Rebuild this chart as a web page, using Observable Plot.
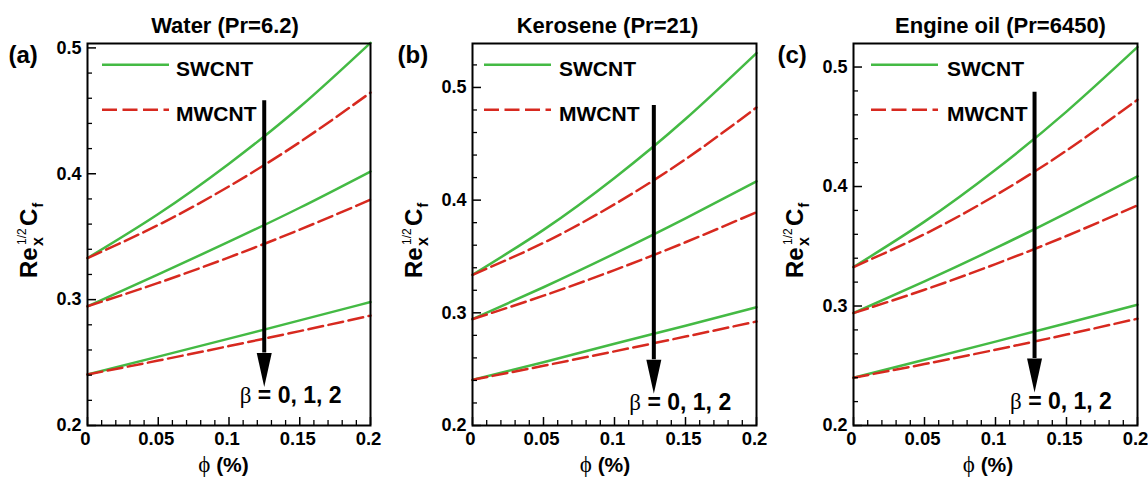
<!DOCTYPE html>
<html><head><meta charset="utf-8">
<script src="https://cdn.jsdelivr.net/npm/d3@7"></script>
<script src="https://cdn.jsdelivr.net/npm/@observablehq/plot@0.6"></script>
<style>
html,body{margin:0;padding:0;background:#fff;}
#wrap{position:relative;width:1148px;height:482px;overflow:hidden;background:#fff;}
#wrap > svg{position:absolute;top:0;}
</style></head><body><div id="wrap"></div>
<script>
// ---- data ----
const phi = [0, 0.05, 0.1, 0.15, 0.2];
const betas = [0, 1, 2];
const nanoNames = ["SWCNT", "MWCNT"];

// Water (Pr=6.2)
const waterSW0 = [0.333, 0.368, 0.408, 0.453, 0.504];
const waterSW1 = [0.2947, 0.320, 0.346, 0.373, 0.4018];
const waterSW2 = [0.2405, 0.2547, 0.269, 0.2835, 0.2981];
const waterMW0 = [0.333, 0.3593, 0.390, 0.4251, 0.4645];
const waterMW1 = [0.2947, 0.3133, 0.3336, 0.3556, 0.3794];
const waterMW2 = [0.2405, 0.2516, 0.2631, 0.275, 0.2873];

// Kerosene (Pr=21)
const keroSW0 = [0.3337, 0.3736, 0.4197, 0.472, 0.5305];
const keroSW1 = [0.2944, 0.3227, 0.3525, 0.3838, 0.4166];
const keroSW2 = [0.2405, 0.2562, 0.2725, 0.2885, 0.305];
const keroMW0 = [0.3337, 0.3621, 0.3963, 0.4363, 0.4822];
const keroMW1 = [0.2944, 0.3152, 0.3379, 0.3626, 0.3893];
const keroMW2 = [0.2405, 0.253, 0.2658, 0.2789, 0.2923];

// Engine oil (Pr=6450)
const oilSW0 = [0.3326, 0.3706, 0.414, 0.4627, 0.5167];
const oilSW1 = [0.2941, 0.3206, 0.3484, 0.3778, 0.4085];
const oilSW2 = [0.240, 0.255, 0.2702, 0.2856, 0.3011];
const oilMW0 = [0.3326, 0.3601, 0.3926, 0.4301, 0.4727];
const oilMW1 = [0.2941, 0.3136, 0.3351, 0.3586, 0.3842];
const oilMW2 = [0.240, 0.2514, 0.2634, 0.2761, 0.2894];

const titles = ["Water (Pr=6.2)", "Kerosene (Pr=21)", "Engine oil (Pr=6450)"];
const tags = ["(a)", "(b)", "(c)"];
const yMaxes = [0.5035, 0.539, 0.5197];
// arrow annotation: x position, top value, head-base value
const arrowX = [0.1249, 0.1277, 0.1275];
const arrowTop = [0.458, 0.484, 0.479];
const arrowBase = [0.2577, 0.2583, 0.256];
const betaLabel = ["β", " = 0, 1, 2"];

const xMajor = [0, 0.05, 0.1, 0.15, 0.2];
const xMinor = [0.01,0.02,0.03,0.04,0.06,0.07,0.08,0.09,0.11,0.12,0.13,0.14,0.16,0.17,0.18,0.19];
const yMajor = [0.2, 0.3, 0.4, 0.5];
const yMinor = [0.22,0.24,0.26,0.28,0.32,0.34,0.36,0.38,0.42,0.44,0.46,0.48,0.52];

const series = [
  [[waterSW0, waterSW1, waterSW2], [waterMW0, waterMW1, waterMW2]],
  [[keroSW0, keroSW1, keroSW2], [keroMW0, keroMW1, keroMW2]],
  [[oilSW0, oilSW1, oilSW2], [oilMW0, oilMW1, oilMW2]]
];

// ---- layout (not data) ----
const layout = [
  {left: 0,   ml: 87, mr: 14, titleDx: -4, tagX: 8,  legX: 15, legTx: 89, xlabDx: -5},
  {left: 382, ml: 90, mr: 10, titleDx: -7, tagX: 15, legX: 12, legTx: 87, xlabDx: -9},
  {left: 764, ml: 89, mr: 11, titleDx: 5,  tagX: 13, legX: 18, legTx: 94, xlabDx: -7}
];
const W = 384, H = 482, MT = 43, MB = 57;
const GREEN = "#44ba44", RED = "#d7291f";
const SANS = "'Liberation Sans', Arial, Helvetica, sans-serif";
const SERIF = "'Liberation Serif', 'DejaVu Serif', serif";

const headSymbol = {
  draw(ctx) { ctx.moveTo(-7.5, 0); ctx.lineTo(7.5, 0); ctx.lineTo(0, 34); ctx.closePath(); }
};

const wrap = document.getElementById("wrap");

for (let p = 0; p < 3; p++) {
  const L = layout[p];
  const rows = [];
  nanoNames.forEach((nano, k) => {
    betas.forEach((b, j) => {
      phi.forEach((x, i) => rows.push({phi: x, value: series[p][k][j][i], nano, beta: b}));
    });
  });
  const innerW = W - L.ml - L.mr;
  const innerH = H - MT - MB;
  const arrow = [{x: arrowX[p], top: arrowTop[p], base: arrowBase[p]}];

  const legendMark = (index, scales, values, dim) => {
    const g = d3.create("svg:g").attr("font-family", SANS).attr("font-weight", "bold")
      .attr("font-size", 21).attr("text-anchor", "start");
    const x0 = dim.marginLeft + L.legX;
    const yS = dim.marginTop + 21.8, yM = dim.marginTop + 66.8;
    g.append("line").attr("x1", x0).attr("x2", x0 + 67).attr("y1", yS).attr("y2", yS)
      .attr("stroke", GREEN).attr("stroke-width", 2.5);
    g.append("line").attr("x1", x0).attr("x2", x0 + 67).attr("y1", yM).attr("y2", yM)
      .attr("stroke", RED).attr("stroke-width", 2.5).attr("stroke-dasharray", "15,5.5");
    g.append("text").attr("x", dim.marginLeft + L.legTx).attr("y", yS + 11.5).text(nanoNames[0]);
    g.append("text").attr("x", dim.marginLeft + L.legTx).attr("y", yM + 11.5).text(nanoNames[1]);
    return g.node();
  };

  const betaMark = (index, scales) => {
    const t = d3.create("svg:text")
      .attr("x", scales.x(arrowX[p]) - 24)
      .attr("y", scales.y(arrowBase[p]) + 51)
      .attr("font-size", 23).attr("text-anchor", "start");
    t.append("tspan").attr("font-family", SERIF).attr("font-weight", "normal").text(betaLabel[0]);
    t.append("tspan").attr("font-family", SANS).attr("font-weight", "bold").text(betaLabel[1]);
    return t.node();
  };

  const yLabelMark = (index, scales, values, dim) => {
    const cx = dim.marginLeft - 50;
    const cy = dim.marginTop + (dim.height - dim.marginTop - dim.marginBottom) / 2 + 2;
    const g = d3.create("svg:g").attr("transform", `translate(${cx},${cy}) rotate(-90)`)
      .attr("font-family", SANS).attr("font-weight", "bold").attr("text-anchor", "start");
    g.append("text").attr("x", -42).attr("y", 0).attr("font-size", 24).text("Re");
    g.append("text").attr("x", -10).attr("y", 6).attr("font-size", 16).text("x");
    g.append("text").attr("x", -9).attr("y", -11).attr("font-size", 12).attr("font-weight", "normal").text("1/2");
    g.append("text").attr("x", 10).attr("y", 0).attr("font-size", 24).text("C");
    g.append("text").attr("x", 28.5).attr("y", 6).attr("font-size", 14).text("f");
    return g.node();
  };

  const xLabelMark = (index, scales, values, dim) => {
    const cx = dim.marginLeft + (dim.width - dim.marginLeft - dim.marginRight) / 2 + L.xlabDx;
    const t = d3.create("svg:text").attr("x", cx).attr("y", 472).attr("text-anchor", "middle");
    t.append("tspan").attr("font-family", SERIF).attr("font-size", 23).attr("font-weight", "normal").text("ϕ");
    t.append("tspan").attr("font-family", SANS).attr("font-size", 21).attr("font-weight", "bold").text(" (%)");
    return t.node();
  };

  const chart = Plot.plot({
    width: W, height: H,
    marginLeft: L.ml, marginRight: L.mr, marginTop: MT, marginBottom: MB,
    x: {domain: [0, 0.2], label: null},
    y: {domain: [0.2, yMaxes[p]], label: null},
    style: {fontFamily: SANS, fontWeight: "bold", fontSize: "18px", color: "black", background: "transparent", overflow: "visible"},
    marks: [
      Plot.line(rows.filter(d => d.nano === "SWCNT"), {x: "phi", y: "value", z: "beta", stroke: GREEN, strokeWidth: 2.5, curve: "natural"}),
      Plot.line(rows.filter(d => d.nano === "MWCNT"), {x: "phi", y: "value", z: "beta", stroke: RED, strokeWidth: 2.5, strokeDasharray: "15,5.5", curve: "natural"}),
      Plot.tickY(yMinor.filter(v => v <= yMaxes[p]), {y: d => d, insetRight: innerW - 5, stroke: "black", strokeWidth: 1.3}),
      Plot.tickY(yMajor, {y: d => d, insetRight: innerW - 9, stroke: "black", strokeWidth: 1.5}),
      Plot.tickX(xMinor, {x: d => d, insetTop: innerH - 5, stroke: "black", strokeWidth: 1.3}),
      Plot.tickX(xMajor, {x: d => d, insetTop: innerH - 8, stroke: "black", strokeWidth: 1.5}),
      Plot.axisX(xMajor, {tickSize: 0, tickPadding: 6, dx: -2, tickFormat: d => String(d), fontSize: 18.5, fontWeight: "bold", label: null}),
      Plot.axisY(yMajor, {tickSize: 0, tickPadding: 6, tickFormat: d => String(d), fontSize: 18, fontWeight: "bold", label: null}),
      Plot.ruleX(arrow, {x: "x", y1: "top", y2: "base", stroke: "black", strokeWidth: 4}),
      Plot.dot(arrow, {x: "x", y: "base", symbol: headSymbol, r: 8, fill: "black", stroke: "none"}),
      Plot.frame({stroke: "black", strokeWidth: 2}),
      Plot.text([titles[p]], {text: d => d, frameAnchor: "top", dx: L.titleDx, dy: -11, lineAnchor: "bottom", fontSize: 22, fontWeight: "bold"}),
      Plot.text([tags[p]], {text: d => d, frameAnchor: "top-left", textAnchor: "start", dx: L.tagX - L.ml, dy: 19, lineAnchor: "bottom", fontSize: 24, fontWeight: "bold"}),
      legendMark, betaMark, yLabelMark, xLabelMark
    ]
  });
  chart.style.left = L.left + "px";
  wrap.appendChild(chart);
}
</script></body></html>
